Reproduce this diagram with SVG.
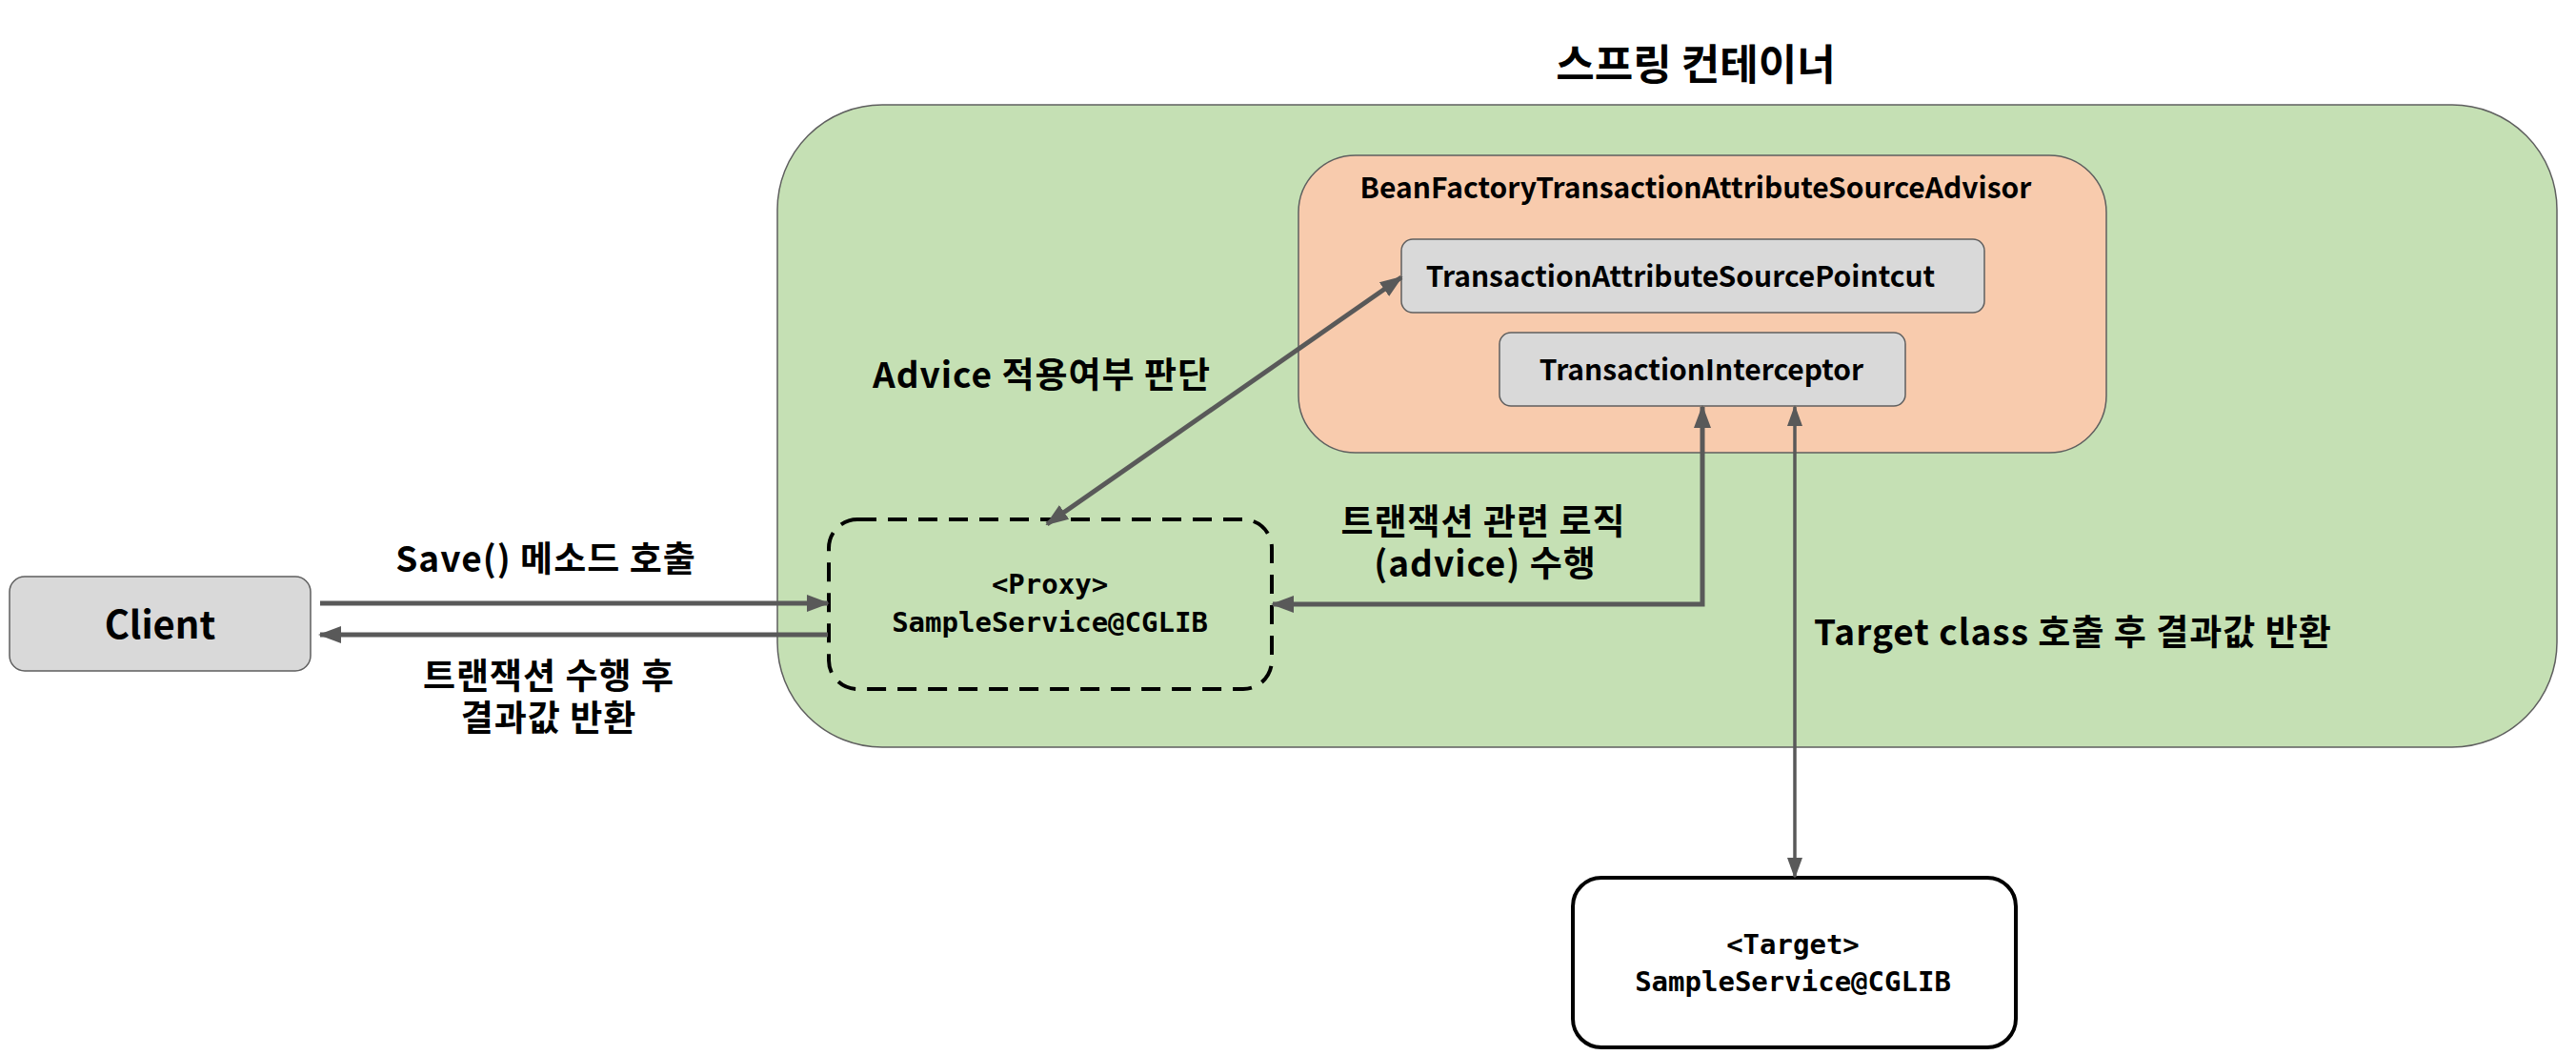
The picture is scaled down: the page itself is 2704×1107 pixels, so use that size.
<svg xmlns="http://www.w3.org/2000/svg" width="2704" height="1107" viewBox="0 0 2704 1107">
<defs>
<style>
.t{font-family:"Noto Sans CJK KR","Noto Sans",sans-serif;font-weight:bold;fill:#000}
.m{font-family:"DejaVu Sans Mono","Liberation Mono",monospace;font-weight:bold;fill:#000;font-size:29px}
.lbl{font-size:37px;letter-spacing:1px}
.box{font-size:30px}
.gray{fill:#D9D9D9;stroke:#5f5f5f;stroke-width:1.5}
.conn{fill:none;stroke:#595959;stroke-width:5}
.conn2{fill:none;stroke:#595959;stroke-width:3.5}
</style>
<marker id="ah" markerUnits="userSpaceOnUse" markerWidth="24" markerHeight="20" refX="22" refY="10" orient="auto-start-reverse" viewBox="0 0 24 20">
<path d="M0,1 L24,10 L0,19 Z" fill="#595959"/>
</marker>
<marker id="ah2" markerUnits="userSpaceOnUse" markerWidth="22" markerHeight="18" refX="20" refY="9" orient="auto-start-reverse" viewBox="0 0 22 18">
<path d="M0,1 L22,9 L0,17 Z" fill="#595959"/>
</marker>
</defs>
<rect width="2704" height="1107" fill="#fff"/>
<g id="container">
<rect x="816" y="110" width="1868" height="674" rx="110" ry="110" fill="#C5E0B4" stroke="#5f5f5f" stroke-width="1.5"/>
<text class="t" x="1780" y="84" font-size="44" text-anchor="middle">스프링 컨테이너</text>
</g>
<g id="advisor">
<rect x="1363" y="163" width="848" height="312" rx="60" ry="60" fill="#F8CBAD" stroke="#5f5f5f" stroke-width="1.5"/>
<text class="t box" x="1780" y="208" text-anchor="middle">BeanFactoryTransactionAttributeSourceAdvisor</text>
</g>
<g id="pointcut">
<rect class="gray" x="1471" y="251" width="612" height="77" rx="12" ry="12"/>
<text class="t box" x="1764" y="301" text-anchor="middle">TransactionAttributeSourcePointcut</text>
</g>
<g id="interceptor">
<rect class="gray" x="1574" y="349" width="426" height="77" rx="12" ry="12"/>
<text class="t box" x="1786" y="399" text-anchor="middle">TransactionInterceptor</text>
</g>
<g id="client">
<rect class="gray" x="10" y="605" width="316" height="99" rx="16" ry="16"/>
<text class="t" x="168" y="670" font-size="40" text-anchor="middle">Client</text>
</g>
<g id="proxy">
<rect x="870" y="545" width="465" height="178" rx="30" ry="30" fill="none" stroke="#000" stroke-width="4" stroke-dasharray="20 12"/>
<text class="m" text-anchor="middle"><tspan x="1102" y="623">&lt;Proxy&gt;</tspan><tspan x="1102" y="663">SampleService@CGLIB</tspan></text>
</g>
<g id="target">
<rect x="1651" y="921" width="465" height="178" rx="30" ry="30" fill="#fff" stroke="#000" stroke-width="4"/>
<text class="m" text-anchor="middle"><tspan x="1882" y="1001">&lt;Target&gt;</tspan><tspan x="1882" y="1040">SampleService@CGLIB</tspan></text>
</g>
<g id="connectors">
<line class="conn" x1="336" y1="633" x2="869" y2="633" marker-end="url(#ah)"/>
<line class="conn" x1="869" y1="666" x2="336" y2="666" marker-end="url(#ah)"/>
<line class="conn" x1="1099" y1="550" x2="1471" y2="291" marker-start="url(#ah)" marker-end="url(#ah)"/>
<polyline class="conn" points="1787,427 1787,634 1336,634" marker-start="url(#ah)" marker-end="url(#ah)"/>
<line class="conn2" x1="1884" y1="427" x2="1884" y2="920" marker-start="url(#ah2)" marker-end="url(#ah2)"/>
</g>
<g id="labels">
<text class="t lbl" x="916" y="407">Advice 적용여부 판단</text>
<text class="t lbl" x="573" y="600" text-anchor="middle">Save() 메소드 호출</text>
<text class="t lbl" text-anchor="middle"><tspan x="576" y="723">트랜잭션 수행 후</tspan><tspan x="576" y="767">결과값 반환</tspan></text>
<text class="t lbl" text-anchor="middle"><tspan x="1557" y="561">트랜잭션 관련 로직</tspan><tspan x="1559" y="605">(advice) 수행</tspan></text>
<text class="t lbl" x="1904" y="677">Target class 호출 후 결과값 반환</text>
</g>
</svg>
